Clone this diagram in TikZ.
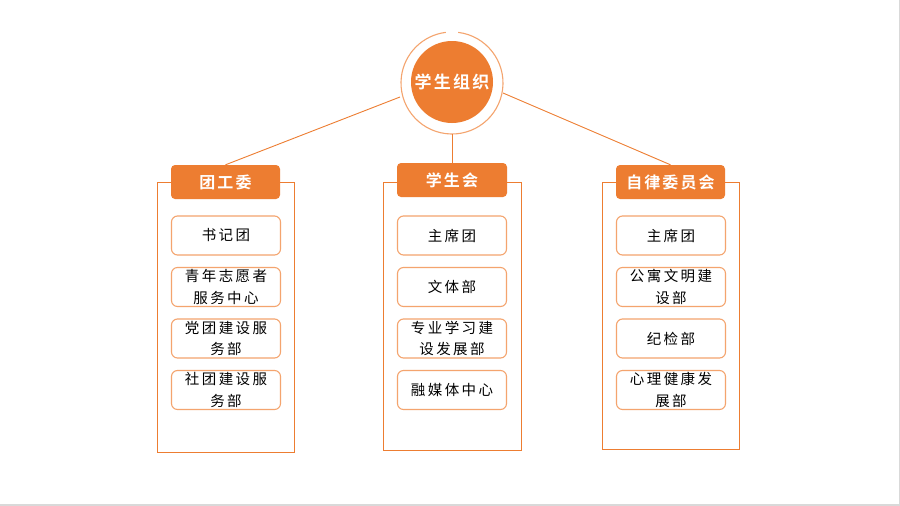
\documentclass[tikz,border=0pt]{standalone}
\usepackage{fontspec}
\setmainfont{Noto Sans CJK SC}[BoldFont={Noto Sans CJK SC Bold}]
\usepackage{tikz}
\definecolor{orgA}{HTML}{ED7D31}
\definecolor{orgB}{HTML}{F4A46E}
\definecolor{edgegray}{HTML}{D9D9D9}
\tikzstyle{head}=[rectangle,rounded corners=4pt,fill=orgA,text=white,inner sep=0,minimum width=109pt,minimum height=34pt,font=\fontsize{16}{18}\selectfont\bfseries\addfontfeature{LetterSpace=13}]
\tikzstyle{item}=[rectangle,rounded corners=6pt,draw=orgB,line width=1.1pt,fill=white,inner sep=0,minimum width=109pt,minimum height=39pt,align=center,font=\fontsize{14.5}{21.5}\selectfont\addfontfeature{LetterSpace=17}]
\tikzset{frame/.style={draw=orgA,line width=0.9pt}}
\tikzset{link/.style={draw=orgA,line width=0.9pt}}

\begin{document}
\begin{tikzpicture}[x=1pt,y=-1pt]

\useasboundingbox[fill=white] (0,0) rectangle (900,506);
\draw[edgegray,line width=1.5pt] (0,505) -- (900,505);
\draw[edgegray,line width=1pt] (899.5,0) -- (899.5,506);

% center circle
\fill[orgA] (452,82) circle (41);
\draw[orgB,line width=1.1pt] (452,83) ++(-83:51) arc[start angle=-83,end angle=263,radius=51];
\node[font=\fontsize{17}{20}\selectfont\bfseries\addfontfeature{LetterSpace=13},text=white] (root) at (452,82) {学生组织};
\coordinate (rl) at (400,97);
\coordinate (rr) at (503,93);
\coordinate (rb) at (452,134);

% frames
\draw[frame] (157,182) rectangle (294,452);
\draw[frame] (383,182) rectangle (521,450);
\draw[frame] (602,182) rectangle (739,449);

% heads
\node[head] (twh) at (225.5,182) {团工委};
\node[head,minimum width=110pt] (xsh) at (452,180) {学生会};
\node[head] (zlw) at (670.5,182) {自律委员会};

\draw[link] (rl) to (twh.north);
\draw[link] (rb) to (xsh.north);
\draw[link] (rr) to (zlw.north);

% left items
\node[item] (tw1) at (226,235.5) {书记团};
\node[item] (tw2) at (226,287) {青年志愿者\\服务中心};
\node[item] (tw3) at (226,338.5) {党团建设服\\务部};
\node[item] (tw4) at (226,390) {社团建设服\\务部};

% middle items
\node[item] (xs1) at (452,235.5) {主席团};
\node[item] (xs2) at (452,287) {文体部};
\node[item] (xs3) at (452,338.5) {专业学习建\\设发展部};
\node[item] (xs4) at (452,390) {融媒体中心};

% right items
\node[item] (zl1) at (671,235.5) {主席团};
\node[item] (zl2) at (671,287) {公寓文明建\\设部};
\node[item] (zl3) at (671,338.5) {纪检部};
\node[item] (zl4) at (671,390) {心理健康发\\展部};

\end{tikzpicture}
\end{document}
